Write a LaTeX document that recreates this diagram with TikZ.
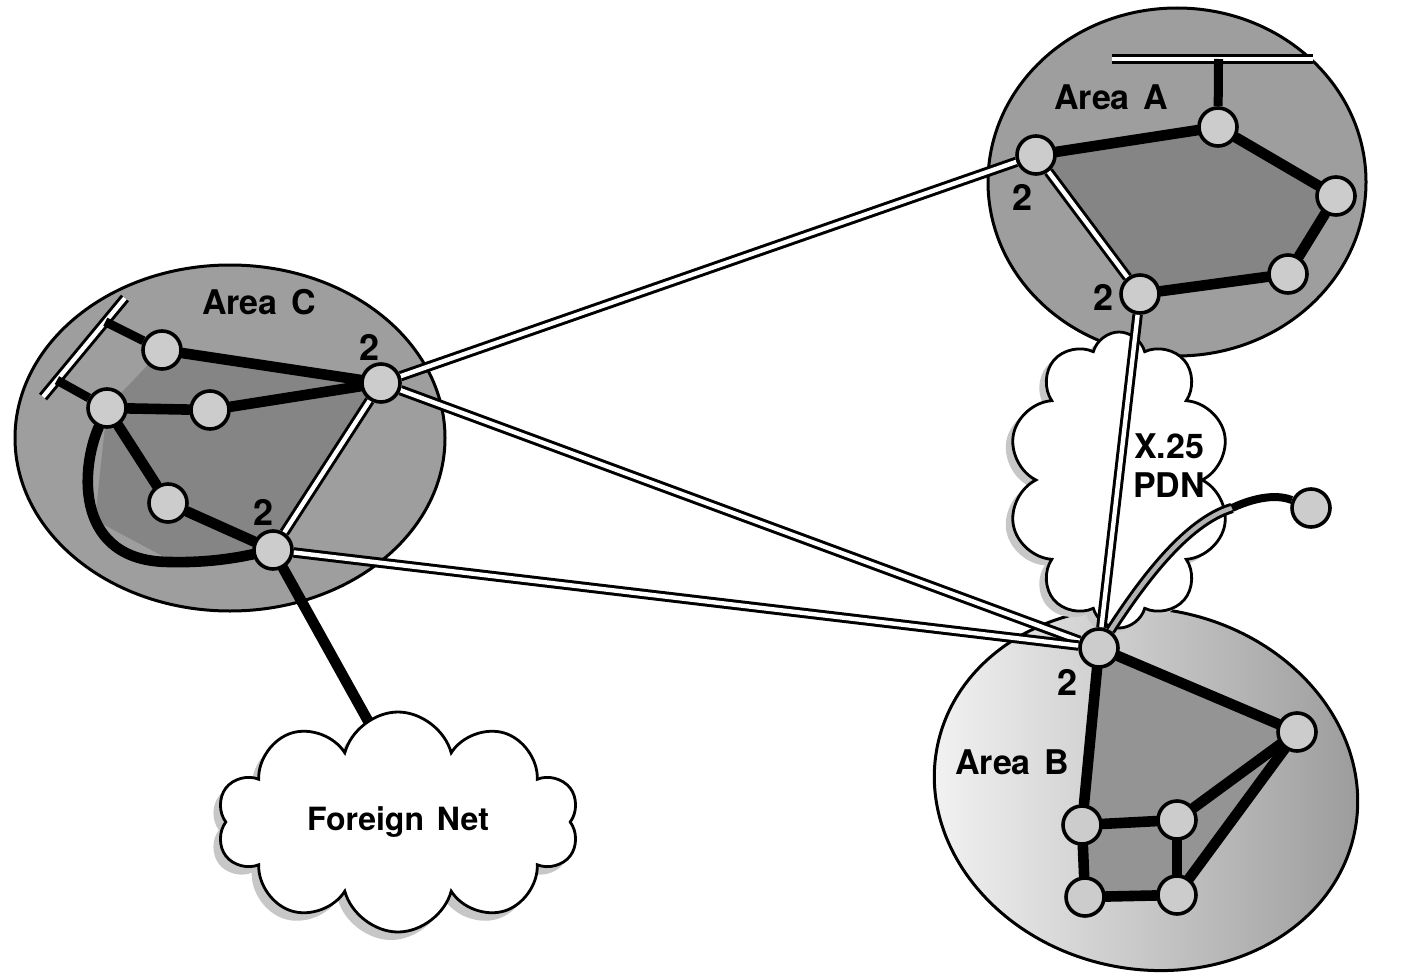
\documentclass[tikz,border=0pt]{standalone}
\usepackage{fontspec}
\setmainfont{TeX Gyre Heros}
\usetikzlibrary{shapes.symbols,calc}
\pgfdeclarelayer{bg}
\pgfsetlayers{bg,main}

\begin{document}
\begin{tikzpicture}[x=0.5pt,y=-0.5pt,
  area/.style={draw=black,line width=1.5pt},
  router/.style={circle,draw=black,line width=1.8pt,fill=black!20,minimum size=19pt,inner sep=0pt},
  link/.style={line width=5.3pt,line cap=round},
  stub/.style={line width=4.5pt},
  trunk/.style={draw=black,line width=1.5pt,double=white,double distance=2.2pt},
  lbl/.style={font=\fontsize{17}{19}\selectfont\bfseries,inner sep=0pt},
  num/.style={font=\fontsize{18}{20}\selectfont\bfseries,inner sep=0pt},
  netcloud/.style={cloud,cloud ignores aspect,draw=black,line width=1.4pt,fill=white,inner sep=0pt},
  cloudshade/.style={cloud,cloud ignores aspect,fill=black!22,draw=none,inner sep=0pt}
]
\useasboundingbox (0,0) rectangle (1408,979);

% ---- routers ----
\node[router] (A1) at (1036,155) {};
\node[router] (A2) at (1218,127) {};
\node[router] (A3) at (1336,196) {};
\node[router] (A4) at (1288,274) {};
\node[router] (A5) at (1140,294) {};

\node[router] (C1) at (162,350) {};
\node[router] (C2) at (381,383) {};
\node[router] (C3) at (107,408) {};
\node[router] (C4) at (210,410) {};
\node[router] (C5) at (168,503) {};
\node[router] (C6) at (273,550) {};

\node[router] (B1) at (1099,648) {};
\node[router] (B2) at (1297,732) {};
\node[router] (B3) at (1082,825) {};
\node[router] (B4) at (1177,820) {};
\node[router] (B5) at (1085,897) {};
\node[router] (B6) at (1177,895) {};

\node[router] (E) at (1311,508) {};

% ---- labels ----
\node[lbl] at (1111,97) {Area\hspace{0.4em}A};
\node[lbl] at (259,302) {Area\hspace{0.4em}C};
\node[lbl] at (1012,762) {Area\hspace{0.4em}B};
\node[num] at (1022,197) {2};
\node[num] at (1103,297) {2};
\node[num] at (370,347) {2};
\node[num] at (264,512) {2};
\node[num] at (1067,682) {2};
\node[align=center,inner sep=0pt,font=\fontsize{17}{19.5}\selectfont\bfseries] at (1169,466) {X.25\\PDN};

\begin{pgfonlayer}{bg}
  % area outlines
  \draw[area,fill=black!38] (1177,182) ellipse [x radius=189, y radius=174];
  \draw[area,fill=black!38] (230,438) ellipse [x radius=215, y radius=173];
  \draw[area,left color=black!4,right color=black!40,rotate around={-12:(1146,789)}]
    (1146,789) ellipse [x radius=213, y radius=180];

  % darker cores
  \fill[black!48] (A1.center)--(A2.center)--(A3.center)--(A4.center)--(A5.center)--cycle;
  \fill[black!48] (C3.center)--(C1.center)--(C2.center)--(C6.center)--(170,560)--(95,520)--cycle;
  \fill[black!42] (B1.center)--(B2.center)--(B6.center)--(B5.center)--(B3.center)--cycle;

  % packet network cloud
  \node[cloudshade,cloud puffs=10,minimum width=111pt,minimum height=148pt] at (1112,486) {};
  \node[netcloud,cloud puffs=10,minimum width=111pt,minimum height=148pt] (pdn) at (1119,480) {};

  % LAN buses
  \coordinate (busA1) at (1112,59);
  \coordinate (busA2) at (1313,59);
  \draw[trunk] (busA1) -- (busA2);
  \path (busA1) -- (busA2) coordinate[pos=0.53] (tapA);
  \draw[stub] (tapA) -- (A2);

  \coordinate (busC1) at (43,397);
  \coordinate (busC2) at (125,298);
  \draw[trunk] (busC1) -- (busC2);
  \path (busC1) -- (busC2) coordinate[pos=0.76] (tapC1) coordinate[pos=0.17] (tapC2);
  \draw[stub] (tapC1) -- (C1);
  \draw[stub] (tapC2) -- (C3);

  % level 1 links
  \draw[link] (A1) -- (A2) -- (A3) -- (A4) -- (A5);
  \draw[link] (C1) -- (C2);
  \draw[link] (C4) -- (C2);
  \draw[link] (C3) -- (C4);
  \draw[link] (C3) -- (C5);
  \draw[link] (C5) -- (C6);
  \draw[link] (C3) .. controls (80,470) and (75,562) .. (170,562) .. controls (210,563) and (240,557) .. (C6);
  \draw[link] (B1) -- (B2);
  \draw[link] (B1) -- (B3);
  \draw[link] (B2) -- (B4);
  \draw[link] (B2) -- (B6);
  \draw[link] (B3) -- (B4);
  \draw[link] (B3) -- (B5);
  \draw[link] (B4) -- (B6);
  \draw[link] (B5) -- (B6);

  % level 2 links
  \draw[trunk] (A1) -- (A5);
  \draw[trunk] (C2) -- (C6);
  \draw[trunk] (C2) -- (A1);
  \draw[trunk] (C2) -- (B1);
  \draw[trunk] (C6) -- (B1);
  \draw[trunk] (A5) -- (B1);

  % dial-up link through the packet network
  \coordinate (pdnExit) at (1232,508);
  \draw[trunk,double=black!30] (B1) .. controls (1140,585) and (1185,522) .. (pdnExit);
  \draw[line width=4pt] (pdnExit) .. controls (1262,494) and (1282,496) .. (E);

  % external network
  \coordinate (fnJoin) at (372,728);
  \draw[link] (C6) -- (fnJoin);
  \node[cloudshade,cloud puffs=10,minimum width=181pt,minimum height=110pt] at (391,830) {};
  \node[netcloud,cloud puffs=10,minimum width=181pt,minimum height=110pt,
        font=\fontsize{16}{18}\selectfont\bfseries] (fn) at (398,822) {Foreign\hspace{0.4em}Net};
\end{pgfonlayer}
\end{tikzpicture}
\end{document}
